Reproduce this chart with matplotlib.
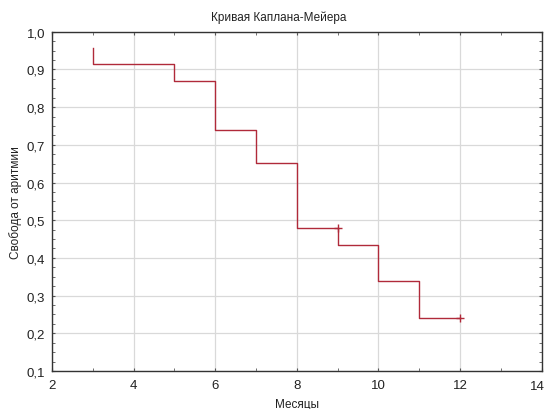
import matplotlib
matplotlib.use("Agg")
import matplotlib.pyplot as plt
from matplotlib.ticker import FuncFormatter, MultipleLocator

plt.rcParams['font.family'] = ['Liberation Sans', 'DejaVu Sans']

# Data
step_x = [3, 3, 5, 6, 7, 8, 9, 10, 11, 12]
step_y = [0.956, 0.914, 0.869, 0.739, 0.652, 0.479, 0.434, 0.338, 0.240, 0.240]
censor_x = [9, 12]
censor_y = [0.479, 0.240]
x_max = 14

title = "Кривая Каплана-Мейера"
xlabel = "Месяцы"
ylabel = "Свобода от аритмии"

fig = plt.figure(figsize=(5.47, 4.10), dpi=100)
ax = fig.add_axes([0.0951, 0.0927, 0.8949, 0.8275])

color = '#B02A3A'
ax.step(step_x, step_y, where='post', color=color, lw=1.0)
ax.plot(censor_x, censor_y, linestyle='none', marker='+', color=color,
        markersize=6, markeredgewidth=1.0)

ax.set_xlim(2, x_max)
ax.set_ylim(0.1, 1.0)
ax.xaxis.set_major_locator(MultipleLocator(2))
ax.xaxis.set_minor_locator(MultipleLocator(1))
ax.yaxis.set_major_locator(MultipleLocator(0.1))
ax.yaxis.set_minor_locator(MultipleLocator(0.025))

ax.xaxis.set_major_formatter(FuncFormatter(
    lambda v, p: "" if abs(v - x_max) < 1e-9 else f"{v:.0f}"))
ax.yaxis.set_major_formatter(FuncFormatter(lambda v, p: f"{v:.1f}".replace('.', ',')))

ax.grid(True, which='major', color='#d9d9d9', lw=0.9)
ax.set_axisbelow(True)

for s in ax.spines.values():
    s.set_color('#333333')
    s.set_linewidth(1.0)

ax.tick_params(which='both', direction='in', top=True, right=True,
               colors='#555555', labelcolor='#222222')
ax.tick_params(which='major', length=2.5, width=0.8, labelsize=9.5)
ax.tick_params(axis='x', which='major', pad=6)
ax.tick_params(axis='y', which='major', pad=5)
ax.tick_params(which='minor', length=2, width=0.6)

# last x tick label, nudged left so it stays inside the figure
ax.annotate(f"{x_max}", xy=(x_max, 0), xycoords=('data', 'axes fraction'),
            xytext=(-3, -6.3), textcoords='offset points', ha='center', va='top',
            fontsize=9.5, color='#222222', annotation_clip=False)

fig.text(279 / 547, 1 - 21 / 410, title, fontsize=8.5, color='#222222',
         ha='center', va='baseline')
fig.text(297 / 547, 1 - 408 / 410, xlabel, fontsize=8.5, color='#222222',
         ha='center', va='baseline')
ax.set_ylabel(ylabel, fontsize=8.5, color='#222222', labelpad=3)

fig.savefig("out.png", dpi=100)
